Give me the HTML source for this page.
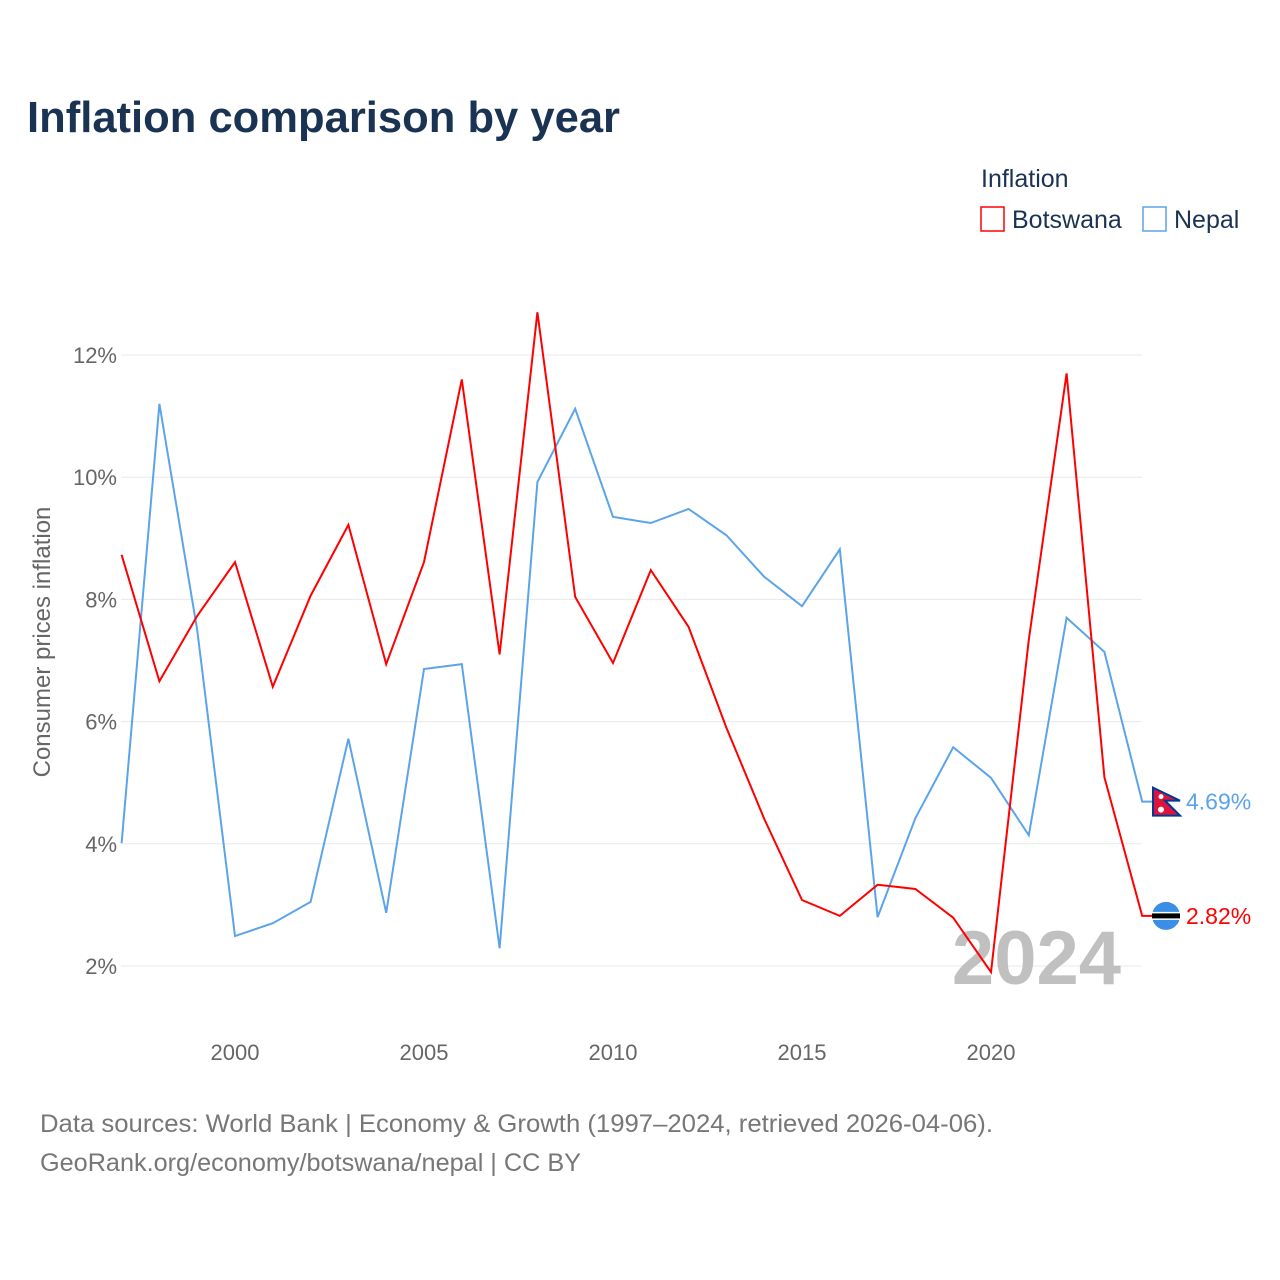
<!DOCTYPE html>
<html><head><meta charset="utf-8"><style>
body{margin:0;background:#fff;font-family:"Liberation Sans",sans-serif}
#wrap{position:relative;width:1280px;height:1280px;overflow:hidden}
</style></head><body>
<div id="wrap">
<svg id="chart" width="1280" height="1280" font-family="Liberation Sans, sans-serif"></svg>
</div>
<script>
const years=[1997,1998,1999,2000,2001,2002,2003,2004,2005,2006,2007,2008,2009,2010,2011,2012,2013,2014,2015,2016,2017,2018,2019,2020,2021,2022,2023,2024];
const botswana=[8.73,6.66,7.73,8.61,6.57,8.06,9.22,6.94,8.61,11.6,7.1,12.7,8.04,6.96,8.48,7.55,5.9,4.41,3.08,2.82,3.33,3.26,2.79,1.9,7.34,11.7,5.09,2.82];
const nepal=[4.01,11.2,7.5,2.49,2.7,3.05,5.72,2.87,6.86,6.94,2.29,9.92,11.12,9.35,9.25,9.48,9.05,8.37,7.89,8.82,2.8,4.42,5.58,5.08,4.14,7.7,7.14,4.69];
const yTicks=[2,4,6,8,10,12];
const xTicks=[2000,2005,2010,2015,2020];
const NS="http://www.w3.org/2000/svg";
const svg=document.getElementById('chart');
function x(v){return 121.6+(v-1997)*37.8;}
function y(v){return 966-(v-2)*61.1;}
function mk(tag,attrs,parent){const e=document.createElementNS(NS,tag);for(const k in attrs)e.setAttribute(k,attrs[k]);(parent||svg).appendChild(e);return e;}
function txt(s,attrs){const e=mk('text',attrs);e.textContent=s;return e;}
let t;
t=txt('Inflation comparison by year',{x:27,y:132,'font-size':44,'font-weight':'bold',fill:'#1b3353',textLength:593,lengthAdjust:'spacingAndGlyphs'});

t=txt('Inflation',{x:981,y:187,'font-size':25,fill:'#1b3353'});

let g=mk('g',{});

mk('rect',{x:981,y:207,width:23,height:24,fill:'none',stroke:'#ff0000','stroke-width':1.5},g);
let tt=mk('text',{x:1012,y:228,'font-size':25,fill:'#1b3353'},g);tt.textContent='Botswana';
g=mk('g',{});

mk('rect',{x:1143,y:207,width:23,height:24,fill:'none',stroke:'#5ba4ea','stroke-width':1.5},g);
tt=mk('text',{x:1174,y:228,'font-size':25,fill:'#1b3353'},g);tt.textContent='Nepal';
yTicks.forEach(v=>{
 const l=mk('line',{x1:121,x2:1142,y1:y(v),y2:y(v),stroke:'#e8e8e8','stroke-width':1});
 
 const e=txt(v+'%',{x:117,y:y(v)+8,'font-size':22,fill:'#666','text-anchor':'end'});
 
});
xTicks.forEach(v=>{
 const e=txt(String(v),{x:x(v),y:1060,'font-size':22,fill:'#666','text-anchor':'middle'});
 
});
t=txt('Consumer prices inflation',{x:0,y:0,'font-size':24,fill:'#666','text-anchor':'middle',transform:'translate(50,642) rotate(-90)'});

t=txt('2024',{x:1121,y:984,'font-size':76,'font-weight':'bold',fill:'#c0c0c0','text-anchor':'end'});

function line(data,color,name){
 let d=data.map((v,i)=>(i?'L':'M')+x(years[i])+','+y(v)).join(' ');
 d+=' L'+(x(years[years.length-1])+10)+','+y(data[data.length-1]);
 const p=mk('path',{d:d,fill:'none',stroke:color,'stroke-width':2,'stroke-linejoin':'miter'});
 
}
line(nepal,'#5ba4ea','line-nepal');
line(botswana,'#ff0000','line-botswana');
const nv=nepal[nepal.length-1],bv=botswana[botswana.length-1];
g=mk('g',{});

const ny=y(nv);
mk('path',{d:`M1153,${ny-14} L1180,${ny-1} L1165,${ny-1} L1180,${ny+14} L1153,${ny+14} Z`,fill:'#dc143c',stroke:'#003893','stroke-width':2},g);
mk('circle',{cx:1161,cy:ny-5,r:2.5,fill:'#fff'},g);
mk('circle',{cx:1161,cy:ny+8,r:3,fill:'#fff'},g);
g=mk('g',{});

mk('circle',{cx:1166,cy:y(bv),r:14,fill:'#3a8ee6'},g);
mk('rect',{x:1152,y:y(bv)-4,width:28,height:8,fill:'#fff'},g);
mk('rect',{x:1152,y:y(bv)-2.5,width:28,height:5,fill:'#000'},g);
t=txt(nv.toFixed(2)+'%',{x:1186,y:ny+8,'font-size':23,fill:'#5ba4ea'});

t=txt(bv.toFixed(2)+'%',{x:1186,y:y(bv)+8,'font-size':23,fill:'#ff0000'});

t=txt('Data sources: World Bank | Economy & Growth (1997–2024, retrieved 2026-04-06).',{x:40,y:1132,'font-size':25,fill:'#777',textLength:953,lengthAdjust:'spacingAndGlyphs'});

t=txt('GeoRank.org/economy/botswana/nepal | CC BY',{x:40,y:1171,'font-size':25,fill:'#777',textLength:541,lengthAdjust:'spacingAndGlyphs'});

</script>
</body></html>
